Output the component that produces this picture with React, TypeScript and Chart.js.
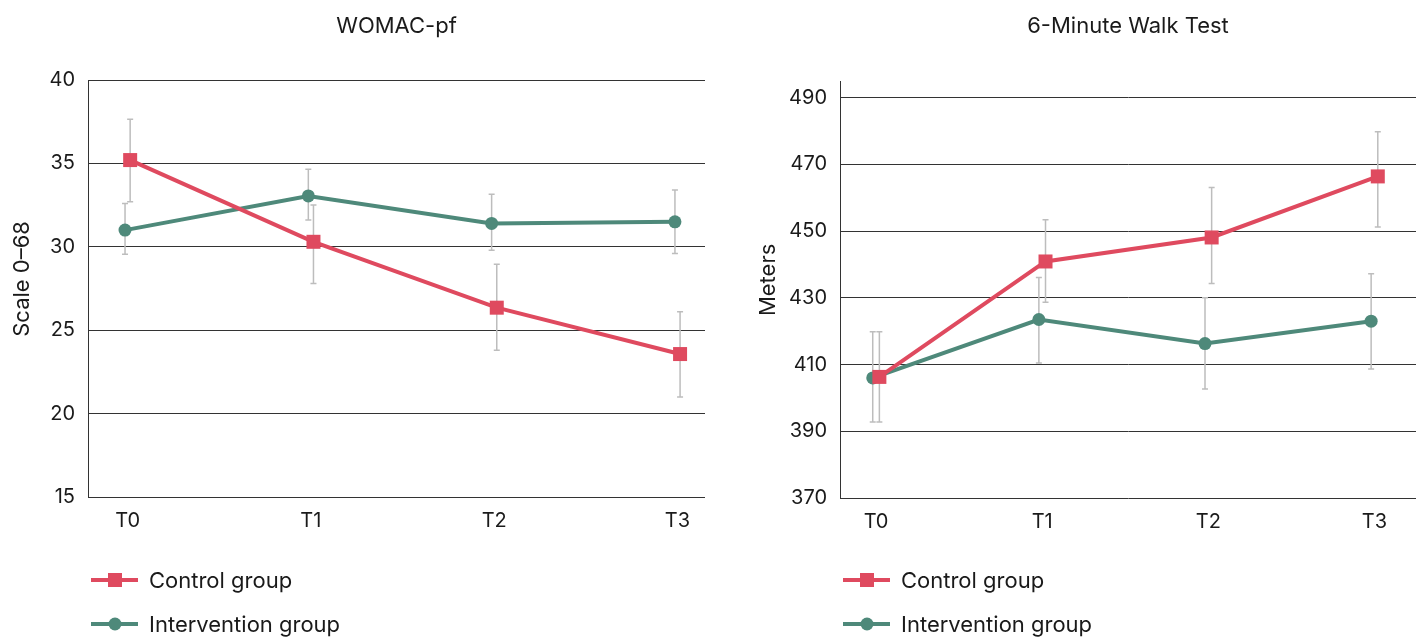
import React, { useEffect, useRef } from "react";
import { Chart, registerables } from "chart.js";

Chart.register(...registerables);

// ---------- data ----------
const timepoints = ["T0", "T1", "T2", "T3"];
const seriesNames = ["Control group", "Intervention group"];

const womacTitle = "WOMAC-pf";
const womacAxisTitle = "Scale 0–68";
const womacTicks = [15, 20, 25, 30, 35, 40];
const womacControl = [35.2, 30.3, 26.35, 23.57];
const womacControlLow = [32.7, 27.8, 23.8, 21.0];
const womacControlHigh = [37.65, 32.5, 28.95, 26.1];
const womacIntervention = [31.0, 33.05, 31.4, 31.5];
const womacInterventionLow = [29.55, 31.6, 29.8, 29.6];
const womacInterventionHigh = [32.6, 34.65, 33.15, 33.4];

const walkTitle = "6-Minute Walk Test";
const walkAxisTitle = "Meters";
const walkTicks = [370, 390, 410, 430, 450, 470, 490];
const walkControl = [406.3, 440.9, 448.1, 466.4];
const walkControlLow = [392.8, 428.7, 434.3, 451.2];
const walkControlHigh = [419.8, 453.4, 463.1, 479.8];
const walkIntervention = [406.0, 423.5, 416.3, 423.0];
const walkInterventionLow = [392.8, 410.5, 402.7, 408.7];
const walkInterventionHigh = [419.8, 436.1, 430.0, 437.2];

// ---------- styles ----------
const RED = "#DF4A5F";
const TEAL = "#4E897A";
const GRID = "#333333";
const TEXT = "#1a1a1a";
const ERR = "#bdbdbd";
const FONT = "Inter, 'Noto Sans', sans-serif";

const errorBarPlugin = {
  id: "errorBars",
  beforeDatasetsDraw(chart: any) {
    const ctx = chart.ctx;
    const xs = chart.scales.x;
    const ys = chart.scales.y;
    ctx.save();
    ctx.strokeStyle = ERR;
    ctx.lineWidth = 1.5;
    chart.data.datasets.forEach((ds: any) => {
      ds.data.forEach((pt: any, i: number) => {
        const x = xs.getPixelForValue(pt.x);
        const yl = ys.getPixelForValue(ds.errLow[i]);
        const yh = ys.getPixelForValue(ds.errHigh[i]);
        ctx.beginPath();
        ctx.moveTo(x, yl);
        ctx.lineTo(x, yh);
        ctx.moveTo(x - 3, yl);
        ctx.lineTo(x + 3, yl);
        ctx.moveTo(x - 3, yh);
        ctx.lineTo(x + 3, yh);
        ctx.stroke();
      });
    });
    ctx.restore();
  },
};

function decorPlugin(title: string, axisTitle: string, axisTitleX: number) {
  return {
    id: "decor",
    afterDraw(chart: any) {
      const ctx = chart.ctx;
      const { left, right, top, bottom } = chart.chartArea;
      ctx.save();
      ctx.fillStyle = TEXT;
      ctx.font = `22px ${FONT}`;
      ctx.textAlign = "center";
      ctx.textBaseline = "middle";
      ctx.fillText(title, (left + right) / 2, 26);

      // y-axis title
      ctx.save();
      ctx.font = `22px ${FONT}`;
      ctx.translate(axisTitleX, top + (bottom - top) * 0.477);
      ctx.rotate(-Math.PI / 2);
      ctx.fillText(axisTitle, 0, 0);
      ctx.restore();

      // stacked legend
      ctx.font = `22px ${FONT}`;
      chart.data.datasets.forEach((ds: any, i: number) => {
        const y = 580 + i * 44;
        const x0 = left + 3;
        ctx.strokeStyle = ds.borderColor;
        ctx.lineWidth = 4;
        ctx.beginPath();
        ctx.moveTo(x0, y);
        ctx.lineTo(x0 + 47, y);
        ctx.stroke();
        ctx.fillStyle = ds.borderColor;
        const cx = x0 + 24;
        if (ds.pointStyle === "rect") {
          ctx.fillRect(cx - 7, y - 7, 14, 14);
        } else {
          ctx.beginPath();
          ctx.arc(cx, y, 6.5, 0, Math.PI * 2);
          ctx.fill();
        }
        ctx.fillStyle = TEXT;
        ctx.textAlign = "left";
        ctx.fillText(ds.label, x0 + 58, y + 1);
      });
      ctx.restore();
    },
  };
}

type Spec = {
  title: string;
  axisTitle: string;
  ticks: number[];
  control: number[];
  controlLow: number[];
  controlHigh: number[];
  intervention: number[];
  interventionLow: number[];
  interventionHigh: number[];
  yMin: number;
  yMax: number;
  xMin: number;
  xMax: number;
  dodge: number;
  yWidth: number;
  axisTitleX: number;
  padding: any;
};

function buildChart(canvas: HTMLCanvasElement, s: Spec) {
  return new Chart(canvas, {
    type: "line",
    data: {
      datasets: [
        {
          label: seriesNames[0],
          data: s.control.map((v, i) => ({ x: i + s.dodge, y: v })),
          borderColor: RED,
          backgroundColor: RED,
          borderWidth: 4,
          pointStyle: "rect",
          pointRadius: 9.9,
          pointHoverRadius: 9.9,
          pointBorderWidth: 0,
          clip: false,
          errLow: s.controlLow,
          errHigh: s.controlHigh,
        } as any,
        {
          label: seriesNames[1],
          data: s.intervention.map((v, i) => ({ x: i - s.dodge, y: v })),
          borderColor: TEAL,
          backgroundColor: TEAL,
          borderWidth: 4,
          pointStyle: "circle",
          pointRadius: 6.5,
          pointHoverRadius: 6.5,
          pointBorderWidth: 0,
          clip: false,
          errLow: s.interventionLow,
          errHigh: s.interventionHigh,
        } as any,
      ],
    },
    options: {
      responsive: false,
      animation: false,
      layout: { padding: s.padding, autoPadding: false },
      scales: {
        x: {
          type: "linear",
          min: s.xMin,
          max: s.xMax,
          grid: { display: false, drawTicks: false },
          border: { display: false },
          ticks: {
            stepSize: 1,
            includeBounds: false,
            padding: 12,
            color: TEXT,
            font: { size: 20, family: FONT },
            callback: (v: any) => (Number.isInteger(v) ? timepoints[v] : ""),
          },
          afterFit: (sc: any) => {
            sc.height = 40;
            sc.paddingLeft = 0;
            sc.paddingRight = 0;
          },
        },
        y: {
          min: s.yMin,
          max: s.yMax,
          grid: { color: GRID, lineWidth: 1, drawTicks: false },
          border: { color: GRID, width: 1 },
          ticks: {
            padding: 13,
            color: TEXT,
            font: { size: 20, family: FONT },
          },
          afterBuildTicks: (sc: any) => {
            sc.ticks = s.ticks.map((v) => ({ value: v }));
          },
          afterFit: (sc: any) => {
            sc.width = s.yWidth;
            sc.paddingTop = 0;
            sc.paddingBottom = 0;
          },
        },
      },
      plugins: {
        legend: { display: false },
        tooltip: { enabled: false },
        title: { display: false },
      },
    } as any,
    plugins: [errorBarPlugin, decorPlugin(s.title, s.axisTitle, s.axisTitleX)],
  });
}

const womacSpec: Spec = {
  title: womacTitle,
  axisTitle: womacAxisTitle,
  ticks: womacTicks,
  control: womacControl,
  controlLow: womacControlLow,
  controlHigh: womacControlHigh,
  intervention: womacIntervention,
  interventionLow: womacInterventionLow,
  interventionHigh: womacInterventionHigh,
  yMin: 15,
  yMax: 40,
  xMin: -0.216,
  xMax: 3.15,
  dodge: 0.014,
  yWidth: 88,
  axisTitleX: 22,
  padding: { top: 80, bottom: 100, left: 0, right: 3 },
};

const walkSpec: Spec = {
  title: walkTitle,
  axisTitle: walkAxisTitle,
  ticks: walkTicks,
  control: walkControl,
  controlLow: walkControlLow,
  controlHigh: walkControlHigh,
  intervention: walkIntervention,
  interventionLow: walkInterventionLow,
  interventionHigh: walkInterventionHigh,
  yMin: 370,
  yMax: 495,
  xMin: -0.217,
  xMax: 3.25,
  dodge: 0.02,
  yWidth: 132,
  axisTitleX: 60,
  padding: { top: 81, bottom: 99, left: 0, right: 0 },
};

function ChartPanel({ spec }: { spec: Spec }) {
  const ref = useRef<HTMLCanvasElement | null>(null);
  useEffect(() => {
    if (!ref.current) return;
    const chart = buildChart(ref.current, spec);
    return () => chart.destroy();
  }, [spec]);
  return (
    <div style={{ width: 708, height: 637, position: "relative" }}>
      <canvas ref={ref} width={708} height={637} style={{ display: "block" }} />
    </div>
  );
}

export default function App() {
  return (
    <div
      style={{
        position: "absolute",
        left: 0,
        top: 0,
        width: 1416,
        height: 637,
        display: "flex",
        background: "#ffffff",
        overflow: "hidden",
      }}
    >
      <ChartPanel spec={womacSpec} />
      <ChartPanel spec={walkSpec} />
    </div>
  );
}
